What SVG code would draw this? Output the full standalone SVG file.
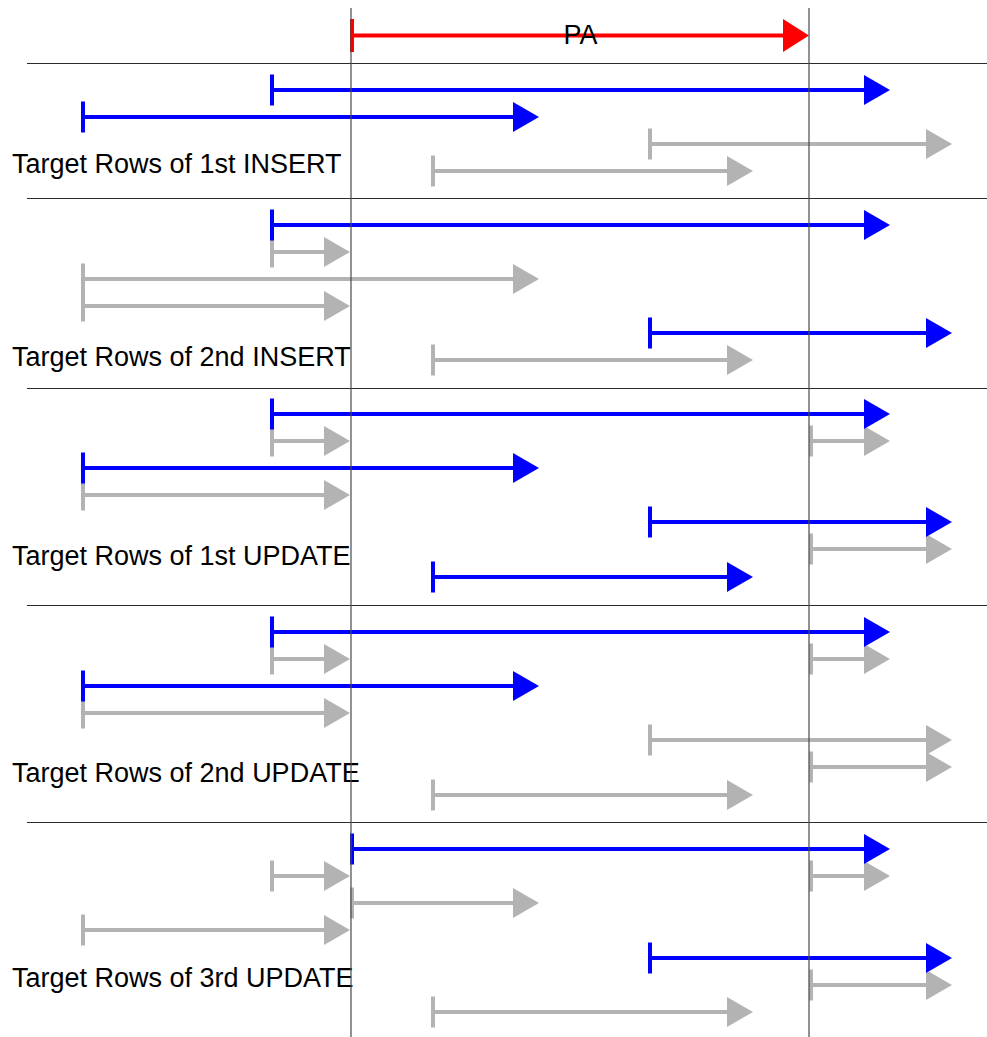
<svg xmlns="http://www.w3.org/2000/svg" width="987" height="1037" viewBox="0 0 987 1037">
  <style>
    .lbl { font-family: "Liberation Sans", Arial, sans-serif; font-size: 27px; fill: #000; }
    .sep { stroke: #2a2a2a; stroke-width: 1; fill: none; }
    .guide { stroke: #4a4a4a; stroke-width: 1.2; fill: none; }
    .b { stroke: #0000ff; stroke-width: 4; fill: none; marker-start: url(#tb); marker-end: url(#hb); }
    .g { stroke: #b3b3b3; stroke-width: 4; fill: none; marker-start: url(#tg); marker-end: url(#hg); }
    .r { stroke: #ff0000; stroke-width: 4; fill: none; marker-start: url(#tr); marker-end: url(#hr); }
  </style>
  <defs>
    <!-- arrow heads: path end sits 2px inside the triangle base -->
    <marker id="hb" markerUnits="userSpaceOnUse" viewBox="0 -16 26 32" markerWidth="26" markerHeight="32" refX="2" refY="0" orient="auto">
      <path d="M0,-15 L26,0 L0,15 z" fill="#0000ff"/>
    </marker>
    <marker id="hg" markerUnits="userSpaceOnUse" viewBox="0 -16 26 32" markerWidth="26" markerHeight="32" refX="2" refY="0" orient="auto">
      <path d="M0,-15 L26,0 L0,15 z" fill="#b3b3b3"/>
    </marker>
    <marker id="hr" markerUnits="userSpaceOnUse" viewBox="0 -17 26 34" markerWidth="26" markerHeight="34" refX="2" refY="0" orient="auto">
      <path d="M0,-16.5 L26,0 L0,16.5 z" fill="#ff0000"/>
    </marker>
    <!-- start ticks -->
    <marker id="tb" markerUnits="userSpaceOnUse" viewBox="-2 -16 4 32" markerWidth="4" markerHeight="32" refX="0" refY="0" orient="auto">
      <rect x="-2" y="-15.5" width="4" height="31" fill="#0000ff"/>
    </marker>
    <marker id="tg" markerUnits="userSpaceOnUse" viewBox="-2 -16 4 32" markerWidth="4" markerHeight="32" refX="0" refY="0" orient="auto">
      <rect x="-2" y="-15.5" width="4" height="31" fill="#b3b3b3"/>
    </marker>
    <marker id="tr" markerUnits="userSpaceOnUse" viewBox="-2 -17 4 34" markerWidth="4" markerHeight="34" refX="0" refY="0" orient="auto">
      <rect x="-2" y="-16.5" width="4" height="33" fill="#ff0000"/>
    </marker>
  </defs>

  <rect width="987" height="1037" fill="#fff"/>

  <!-- PA range -->
  <g id="pa">
    <path class="r" d="M352,35.5 H785"/>
    <text class="lbl" x="580.5" y="44" text-anchor="middle">PA</text>
  </g>

  <!-- 1st INSERT -->
  <g id="insert1">
    <path class="g" d="M650,144 H928"/>
    <path class="g" d="M433,171 H729"/>
    <path class="b" d="M272,90 H866"/>
    <path class="b" d="M83,117 H515"/>
    <text class="lbl" x="12" y="173">Target Rows of 1st INSERT</text>
  </g>

  <!-- 2nd INSERT -->
  <g id="insert2">
    <path class="g" d="M272,252 H326"/>
    <path class="g" d="M83,279 H515"/>
    <path class="g" d="M83,306 H326"/>
    <path class="g" d="M433,360 H729"/>
    <path class="b" d="M272,225 H866"/>
    <path class="b" d="M650,333 H928"/>
    <text class="lbl" x="12" y="366">Target Rows of 2nd INSERT</text>
  </g>

  <!-- 1st UPDATE -->
  <g id="update1">
    <path class="g" d="M272,441 H326"/>
    <path class="g" d="M811,441 H866"/>
    <path class="g" d="M83,495 H326"/>
    <path class="g" d="M811,549 H928"/>
    <path class="b" d="M272,414 H866"/>
    <path class="b" d="M83,468 H515"/>
    <path class="b" d="M650,522 H928"/>
    <path class="b" d="M433,577 H729"/>
    <text class="lbl" x="12" y="565">Target Rows of 1st UPDATE</text>
  </g>

  <!-- 2nd UPDATE -->
  <g id="update2">
    <path class="g" d="M272,659 H326"/>
    <path class="g" d="M811,659 H866"/>
    <path class="g" d="M83,713 H326"/>
    <path class="g" d="M650,740 H928"/>
    <path class="g" d="M811,767 H928"/>
    <path class="g" d="M433,795 H729"/>
    <path class="b" d="M272,632 H866"/>
    <path class="b" d="M83,686 H515"/>
    <text class="lbl" x="12" y="782">Target Rows of 2nd UPDATE</text>
  </g>

  <!-- 3rd UPDATE -->
  <g id="update3">
    <path class="g" d="M272,876 H326"/>
    <path class="g" d="M811,876 H866"/>
    <path class="g" d="M352,903 H515"/>
    <path class="g" d="M83,930 H326"/>
    <path class="g" d="M811,985 H928"/>
    <path class="g" d="M433,1012 H729"/>
    <path class="b" d="M352,849 H866"/>
    <path class="b" d="M650,958 H928"/>
    <text class="lbl" x="12" y="987">Target Rows of 3rd UPDATE</text>
  </g>

  <!-- section separators and PA boundaries -->
  <g id="guides">
    <path class="sep" d="M27,63.5 H987 M27,198.5 H987 M27,388.5 H987 M27,605.5 H987 M27,822.5 H987"/>
    <path class="guide" d="M351,8 V1037 M809,8 V1037"/>
  </g>
</svg>
